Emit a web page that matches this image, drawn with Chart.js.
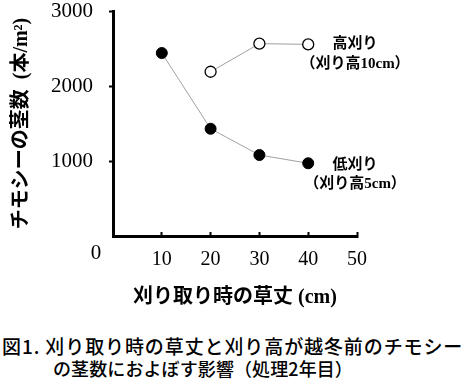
<!DOCTYPE html>
<html>
<head>
<meta charset="utf-8">
<script src="https://cdn.jsdelivr.net/npm/chart.js@4.4.1/dist/chart.umd.min.js"></script>
<style>
  body { margin: 0; background: #fff; }
  #wrap { position: relative; width: 466px; height: 380px; }
  #chart { position: absolute; left: 0; top: 0; }
  .cap { position: absolute; font-family: 'Noto Sans CJK JP', sans-serif; font-weight: 500; color: #000; white-space: nowrap; line-height: 1; }
</style>
</head>
<body>
<div id="wrap">
  <canvas id="chart" width="466" height="320"></canvas>
  <div class="cap" id="cap1" style="left:2px; top:336px; font-size:19px; letter-spacing:0.9px;">図1. 刈り取り時の草丈と刈り高が越冬前のチモシー</div>
  <div class="cap" id="cap2" style="left:53px; top:359px; font-size:18px; letter-spacing:0.1px;">の茎数におよぼす影響（処理2年目）</div>
</div>
<script>
// données
var heights = [10, 20, 30, 40];          // 刈り取り時の草丈 (cm)
var low_cut = [2440, 1430, 1080, 970];   // 低刈り (刈り高5cm)
var high_x = [20, 30, 40];
var high_cut = [2190, 2565, 2555];       // 高刈り (刈り高10cm)
var y_ticks = [1000, 2000, 3000];
var x_ticks = [10, 20, 30, 40, 50];

var serif = "'Liberation Serif', 'Noto Sans CJK JP', serif";

// étiquettes des séries et le "0" de l'origine
var labelsPlugin = {
  id: 'labels',
  afterDraw: function(chart) {
    var ctx = chart.ctx;
    var xs = chart.scales.x, ys = chart.scales.y;
    ctx.save();
    ctx.fillStyle = '#000';
    ctx.textAlign = 'center';
    ctx.textBaseline = 'middle';
    ctx.font = 'bold 15px ' + serif;
    var cx = xs.getPixelForValue(49.6);
    var hy = ys.getPixelForValue(2560);
    ctx.fillText('高刈り', cx, hy);
    ctx.fillText('（刈り高10cm）', cx, hy + 20);
    var ly = ys.getPixelForValue(947);
    ctx.fillText('低刈り', cx, ly);
    ctx.fillText('（刈り高5cm）', cx, ly + 19);
    ctx.font = '21px ' + serif;
    ctx.fillText('0', chart.chartArea.left - 17, chart.chartArea.bottom + 17);
    ctx.restore();
  }
};

var ctx = document.getElementById('chart');
var chart = new Chart(ctx, {
  type: 'scatter',
  data: {
    datasets: [{
      label: '低刈り',
      data: heights.map((h, i) => ({x: h, y: low_cut[i]})),
      showLine: true,
      borderColor: '#a0a0a0',
      borderWidth: 1,
      pointRadius: 5.5,
      pointBackgroundColor: '#000',
      pointBorderColor: '#000',
      pointBorderWidth: 1
    }, {
      label: '高刈り',
      data: high_x.map((h, i) => ({x: h, y: high_cut[i]})),
      showLine: true,
      borderColor: '#a0a0a0',
      borderWidth: 1,
      pointRadius: 5.5,
      pointBackgroundColor: '#fff',
      pointBorderColor: '#000',
      pointBorderWidth: 1.3
    }]
  },
  options: {
    responsive: false,
    animation: false,
    devicePixelRatio: 1,
    layout: { padding: { top: 11, right: 109, bottom: 0, left: 0 } },
    plugins: { legend: { display: false }, tooltip: { enabled: false } },
    scales: {
      x: {
        type: 'linear', min: 0, max: 50,
        afterBuildTicks: function(s) { s.ticks = x_ticks.map(v => ({value: v})); },
        afterFit: function(s) { s.height = 84; s.paddingLeft = 0; s.paddingRight = 0; },
        border: { display: true, color: '#000', width: 3 },
        grid: { drawOnChartArea: false, drawTicks: true, tickLength: -4, tickWidth: 2, tickColor: '#000' },
        ticks: { color: '#000', padding: 16, font: { family: serif, size: 20 }, callback: v => String(v) },
        title: {
          display: true, text: '刈り取り時の草丈 (cm)', color: '#000',
          font: { family: serif, size: 20, weight: 'bold' },
          padding: { top: 0, bottom: 10 }
        }
      },
      y: {
        type: 'linear', min: 0, max: 3000,
        afterBuildTicks: function(s) { s.ticks = y_ticks.map(v => ({value: v})); },
        afterFit: function(s) { s.width = 113; s.paddingTop = 0; s.paddingBottom = 0; },
        border: { display: true, color: '#000', width: 3 },
        grid: { drawOnChartArea: false, drawTicks: true, tickLength: 4, tickWidth: 2, tickColor: '#000' },
        ticks: { color: '#000', padding: 16, font: { family: serif, size: 21 }, callback: v => String(v) },
        title: {
          display: true, text: 'チモシーの茎数  (本/m²)', color: '#000',
          font: { family: serif, size: 20, weight: 'bold' },
          padding: { top: 10, bottom: 0 }
        }
      }
    }
  },
  plugins: [labelsPlugin]
});
</script>
</body>
</html>
